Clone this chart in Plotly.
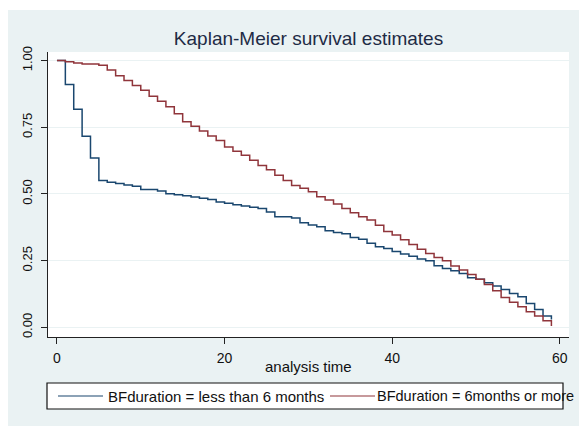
import plotly.graph_objects as go

months = list(range(0, 60))

surv_less6 = [1.000, 0.910, 0.817, 0.716, 0.635, 0.550, 0.544, 0.539, 0.534, 0.529,
              0.517, 0.517, 0.511, 0.501, 0.497, 0.493, 0.489, 0.484, 0.479, 0.470,
              0.465, 0.460, 0.455, 0.450, 0.446, 0.432, 0.415, 0.415, 0.410, 0.392,
              0.384, 0.377, 0.362, 0.356, 0.351, 0.337, 0.330, 0.315, 0.302, 0.296,
              0.284, 0.275, 0.267, 0.256, 0.250, 0.231, 0.221, 0.212, 0.202, 0.186,
              0.180, 0.167, 0.155, 0.142, 0.127, 0.115, 0.090, 0.067, 0.043, 0.030]

surv_6plus = [1.000, 0.995, 0.991, 0.987, 0.987, 0.982, 0.965, 0.943, 0.925, 0.906,
              0.889, 0.866, 0.847, 0.827, 0.801, 0.771, 0.754, 0.736, 0.717, 0.700,
              0.676, 0.660, 0.645, 0.626, 0.607, 0.591, 0.570, 0.550, 0.532, 0.521,
              0.508, 0.490, 0.477, 0.462, 0.446, 0.430, 0.415, 0.402, 0.383, 0.359,
              0.346, 0.328, 0.311, 0.293, 0.277, 0.262, 0.250, 0.230, 0.215, 0.198,
              0.180, 0.161, 0.137, 0.112, 0.094, 0.077, 0.059, 0.043, 0.025, 0.005]

series_names = ["BFduration = less than 6 months", "BFduration = 6months or more"]
x_ticks = [0, 20, 40, 60]
y_ticks = [0.0, 0.25, 0.5, 0.75, 1.0]
y_tick_labels = ["0.00", "0.25", "0.50", "0.75", "1.00"]

BLUE = "#1A476F"
RED = "#90353B"
SHADE = "#EAF2F3"
FONT = "Liberation Sans, Arial, sans-serif"
COLORS = [BLUE, RED]

fig = go.Figure()
for name, vals, col in zip(series_names, [surv_less6, surv_6plus], COLORS):
    fig.add_trace(go.Scatter(x=months, y=vals, mode="lines", name=name, showlegend=False,
                             line=dict(color=col, width=1.5, shape="hv")))

# Page body margin is removed by the post script, so positions are window pixels.
W, H = 579, 426
L, R, T, B = 48, W - 569, 52, H - 337
pw, ph = W - L - R, H - T - B

def px_x(p):
    return (p - L) / pw

def px_y(p):
    return (H - B - p) / ph

shapes = [
    dict(type="rect", xref="paper", yref="paper", layer="below",
         x0=px_x(8), x1=px_x(W + 20), y0=px_y(H + 20), y1=px_y(10),
         fillcolor=SHADE, line=dict(width=0)),
    dict(type="rect", xref="paper", yref="paper", layer="below",
         x0=0, x1=1, y0=0, y1=1, fillcolor="white", line=dict(width=0)),
    # legend box
    dict(type="rect", xref="paper", yref="paper", layer="above",
         x0=px_x(47), x1=px_x(563), y0=px_y(409), y1=px_y(383),
         fillcolor="white", line=dict(color="#111111", width=1.2)),
]

annotations = [dict(text="analysis time", xref="paper", yref="paper",
                    x=0.5, y=px_y(367), xanchor="center", yanchor="middle",
                    showarrow=False, font=dict(size=15))]

# legend entries (line sample + label)
leg_line_x = [(58, 103), (330, 375)]
leg_text_x = [106, 375]
leg_font = [15, 14.5]
for (x0, x1), tx, fs, name, col in zip(leg_line_x, leg_text_x, leg_font, series_names, COLORS):
    shapes.append(dict(type="line", xref="paper", yref="paper", layer="above",
                       x0=px_x(x0), x1=px_x(x1), y0=px_y(396), y1=px_y(396),
                       line=dict(color=col, width=1.2)))
    annotations.append(dict(text=name, xref="paper", yref="paper",
                            x=px_x(tx), y=px_y(396), xanchor="left", yanchor="middle",
                            showarrow=False, font=dict(size=fs)))

fig.update_layout(
    width=W, height=H,
    margin=dict(l=L, r=R, t=T, b=B, autoexpand=False),
    paper_bgcolor="white",
    plot_bgcolor="rgba(0,0,0,0)",
    shapes=shapes,
    showlegend=False,
    font=dict(family=FONT, color="#111111"),
    title=dict(text="Kaplan-Meier survival estimates", x=0.5, xref="paper",
               xanchor="center", y=1 - 38 / H, yref="container", yanchor="middle",
               font=dict(size=19, color="#1E2B45", family=FONT)),
    xaxis=dict(range=[-1.07, 61.1], tickvals=x_ticks, showgrid=False, zeroline=False,
               showline=True, linecolor="#222222", linewidth=1.2,
               ticks="outside", ticklen=6, tickcolor="#222222", tickwidth=1.2,
               tickfont=dict(size=14), ticklabelstandoff=2),
    yaxis=dict(range=[-0.036, 1.032], tickvals=y_ticks, ticktext=y_tick_labels,
               showgrid=True, gridcolor=SHADE, gridwidth=1.2, zeroline=False,
               showline=True, linecolor="#222222", linewidth=1.2,
               ticks="outside", ticklen=6, tickcolor="#222222", tickwidth=1.2,
               tickangle=-90, tickfont=dict(size=13), ticklabelstandoff=4),
    annotations=annotations,
)

fig.write_html("out.html", config={"displayModeBar": False},
               post_script="document.body.style.margin='0';document.body.style.overflow='hidden';")
